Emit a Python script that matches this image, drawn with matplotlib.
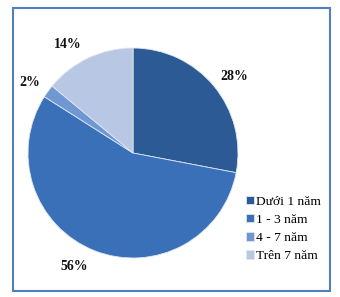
import matplotlib
matplotlib.use("Agg")
import matplotlib.pyplot as plt
from matplotlib.patches import Rectangle

categories = ["Dưới 1 năm", "1 - 3 năm", "4 - 7 năm", "Trên 7 năm"]
values = [28, 56, 2, 14]
colors = ["#2B5A95", "#3A70B8", "#6F98D2", "#B8C7E3"]
# label centres (pixels from top-left)
label_pos = [(234, 76), (74, 266), (30, 82), (68, 45)]

W, H = 340, 297
fig = plt.figure(figsize=(W / 100, H / 100), dpi=100)
fig.patch.set_facecolor("white")
ax = fig.add_axes([0, 0, 1, 1])

wedges, texts, autotexts = ax.pie(
    values, colors=colors, startangle=90, counterclock=False,
    center=(133, H - 153), radius=105, frame=True,
    autopct="%d%%", pctdistance=1.2,
    wedgeprops=dict(edgecolor="#DDE6F3", linewidth=0.6),
    textprops=dict(family="Liberation Serif", fontweight="bold",
                   fontsize=10, color="#111111"))
for t, (px, py) in zip(autotexts, label_pos):
    t.set_position((px, H - py))
    t.set_ha("center")
    t.set_va("center")

ax.set_xlim(0, W)
ax.set_ylim(0, H)
ax.set_aspect("equal")
ax.axis("off")

# frame
ax.add_patch(Rectangle((13, H - 291), 317, 283, fill=False,
                       edgecolor="#4F81BD", linewidth=1.5))

leg = ax.legend(wedges, categories, loc="upper left",
                bbox_to_anchor=(234 / W, 1 - 184 / H),
                bbox_transform=fig.transFigure,
                frameon=False, handlelength=0.55, handleheight=0.55,
                handletextpad=0.2, labelspacing=0.45,
                prop=dict(family="Liberation Serif", size=9.7))

fig.savefig("out.png", dpi=100)
